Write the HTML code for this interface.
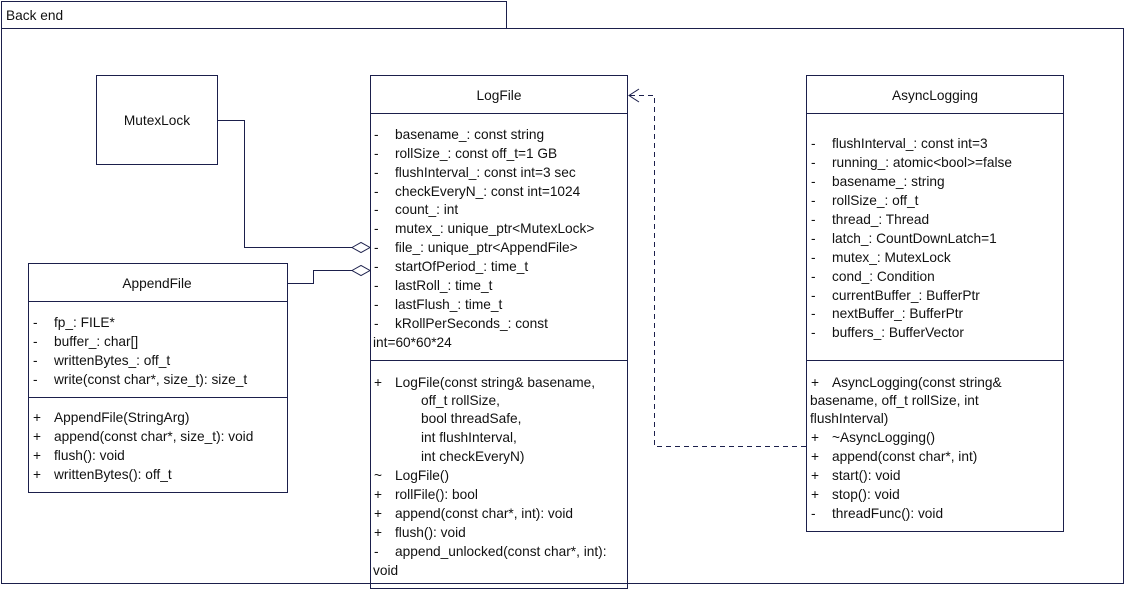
<!DOCTYPE html>
<html><head><meta charset="utf-8"><style>
html,body{margin:0;padding:0;background:#fff;}
svg text{font-family:"Liberation Sans",sans-serif;font-size:13.7px;fill:#111;}
</style></head><body>
<svg width="1124" height="590" xmlns="http://www.w3.org/2000/svg">
<g fill="none" stroke="#1b1f4b" stroke-width="1">
<rect x="1.5" y="1.5" width="505" height="27"/>
<polyline points="506.5,28.5 1123.5,28.5 1123.5,583.5 1.5,583.5 1.5,28.5"/>
<rect x="96.5" y="75.5" width="121" height="89"/>
<rect x="370.5" y="75.5" width="257" height="513"/>
<line x1="370" y1="113.5" x2="628" y2="113.5"/>
<line x1="370" y1="360.5" x2="628" y2="360.5"/>
<rect x="28.5" y="263.5" width="259" height="229"/>
<line x1="28" y1="301.5" x2="288" y2="301.5"/>
<line x1="28" y1="397.5" x2="288" y2="397.5"/>
<rect x="806.5" y="75.5" width="257" height="456"/>
<line x1="806" y1="113.5" x2="1064" y2="113.5"/>
<line x1="806" y1="360.5" x2="1064" y2="360.5"/>
<polyline points="217,120.5 244.5,120.5 244.5,247.5 352,247.5"/>
<polygon points="352,247.5 361,242.5 370,247.5 361,252.5" fill="#fff"/>
<polyline points="287,283.5 313.5,283.5 313.5,270.5 352,270.5"/>
<polygon points="352,270.5 361,265.5 370,270.5 361,275.5" fill="#fff"/>
<polyline points="806,446.5 654.5,446.5 654.5,95.5 629,95.5" stroke-dasharray="5,4"/>
<polyline points="639,89 629,95.5 639,102"/>
</g>
<text x="6" y="20">Back end</text>
<text x="157" y="125" text-anchor="middle">MutexLock</text>
<text x="499" y="100" text-anchor="middle">LogFile</text>
<g>
<text x="374" y="139">-</text><text x="395" y="139">basename_: const string</text>
<text x="374" y="158">-</text><text x="395" y="158">rollSize_: const off_t=1 GB</text>
<text x="374" y="177">-</text><text x="395" y="177">flushInterval_: const int=3 sec</text>
<text x="374" y="196">-</text><text x="395" y="196">checkEveryN_: const int=1024</text>
<text x="374" y="214">-</text><text x="395" y="214">count_: int</text>
<text x="374" y="233">-</text><text x="395" y="233">mutex_: unique_ptr&lt;MutexLock&gt;</text>
<text x="374" y="252">-</text><text x="395" y="252">file_: unique_ptr&lt;AppendFile&gt;</text>
<text x="374" y="271">-</text><text x="395" y="271">startOfPeriod_: time_t</text>
<text x="374" y="290">-</text><text x="395" y="290">lastRoll_: time_t</text>
<text x="374" y="309">-</text><text x="395" y="309">lastFlush_: time_t</text>
<text x="374" y="328">-</text><text x="395" y="328">kRollPerSeconds_: const</text>
<text x="373" y="347">int=60*60*24</text>
<text x="374" y="387">+</text><text x="395" y="387">LogFile(const string&amp; basename,</text>
<text x="421" y="405">off_t rollSize,</text>
<text x="421" y="423">bool threadSafe,</text>
<text x="421" y="442">int flushInterval,</text>
<text x="421" y="461">int checkEveryN)</text>
<text x="374" y="480">~</text><text x="395" y="480">LogFile()</text>
<text x="374" y="499">+</text><text x="395" y="499">rollFile(): bool</text>
<text x="374" y="518">+</text><text x="395" y="518">append(const char*, int): void</text>
<text x="374" y="537">+</text><text x="395" y="537">flush(): void</text>
<text x="374" y="556">-</text><text x="395" y="556">append_unlocked(const char*, int):</text>
<text x="373" y="575">void</text>
</g>
<text x="157" y="288" text-anchor="middle">AppendFile</text>
<g>
<text x="33" y="327">-</text><text x="54" y="327">fp_: FILE*</text>
<text x="33" y="346">-</text><text x="54" y="346">buffer_: char[]</text>
<text x="33" y="365">-</text><text x="54" y="365">writtenBytes_: off_t</text>
<text x="33" y="384">-</text><text x="54" y="384">write(const char*, size_t): size_t</text>
<text x="33" y="422">+</text><text x="54" y="422">AppendFile(StringArg)</text>
<text x="33" y="441">+</text><text x="54" y="441">append(const char*, size_t): void</text>
<text x="33" y="460">+</text><text x="54" y="460">flush(): void</text>
<text x="33" y="479">+</text><text x="54" y="479">writtenBytes(): off_t</text>
</g>
<text x="935" y="100" text-anchor="middle">AsyncLogging</text>
<g>
<text x="811" y="148">-</text><text x="832" y="148">flushInterval_: const int=3</text>
<text x="811" y="167">-</text><text x="832" y="167">running_: atomic&lt;bool&gt;=false</text>
<text x="811" y="186">-</text><text x="832" y="186">basename_: string</text>
<text x="811" y="205">-</text><text x="832" y="205">rollSize_: off_t</text>
<text x="811" y="224">-</text><text x="832" y="224">thread_: Thread</text>
<text x="811" y="243">-</text><text x="832" y="243">latch_: CountDownLatch=1</text>
<text x="811" y="262">-</text><text x="832" y="262">mutex_: MutexLock</text>
<text x="811" y="281">-</text><text x="832" y="281">cond_: Condition</text>
<text x="811" y="300">-</text><text x="832" y="300">currentBuffer_: BufferPtr</text>
<text x="811" y="318">-</text><text x="832" y="318">nextBuffer_: BufferPtr</text>
<text x="811" y="337">-</text><text x="832" y="337">buffers_: BufferVector</text>
<text x="811" y="387">+</text><text x="832" y="387">AsyncLogging(const string&amp;</text>
<text x="810" y="405">basename, off_t rollSize, int</text>
<text x="810" y="423">flushInterval)</text>
<text x="811" y="442">+</text><text x="832" y="442">~AsyncLogging()</text>
<text x="811" y="461">+</text><text x="832" y="461">append(const char*, int)</text>
<text x="811" y="480">+</text><text x="832" y="480">start(): void</text>
<text x="811" y="499">+</text><text x="832" y="499">stop(): void</text>
<text x="811" y="518">-</text><text x="832" y="518">threadFunc(): void</text>
</g>
</svg>
</body></html>
